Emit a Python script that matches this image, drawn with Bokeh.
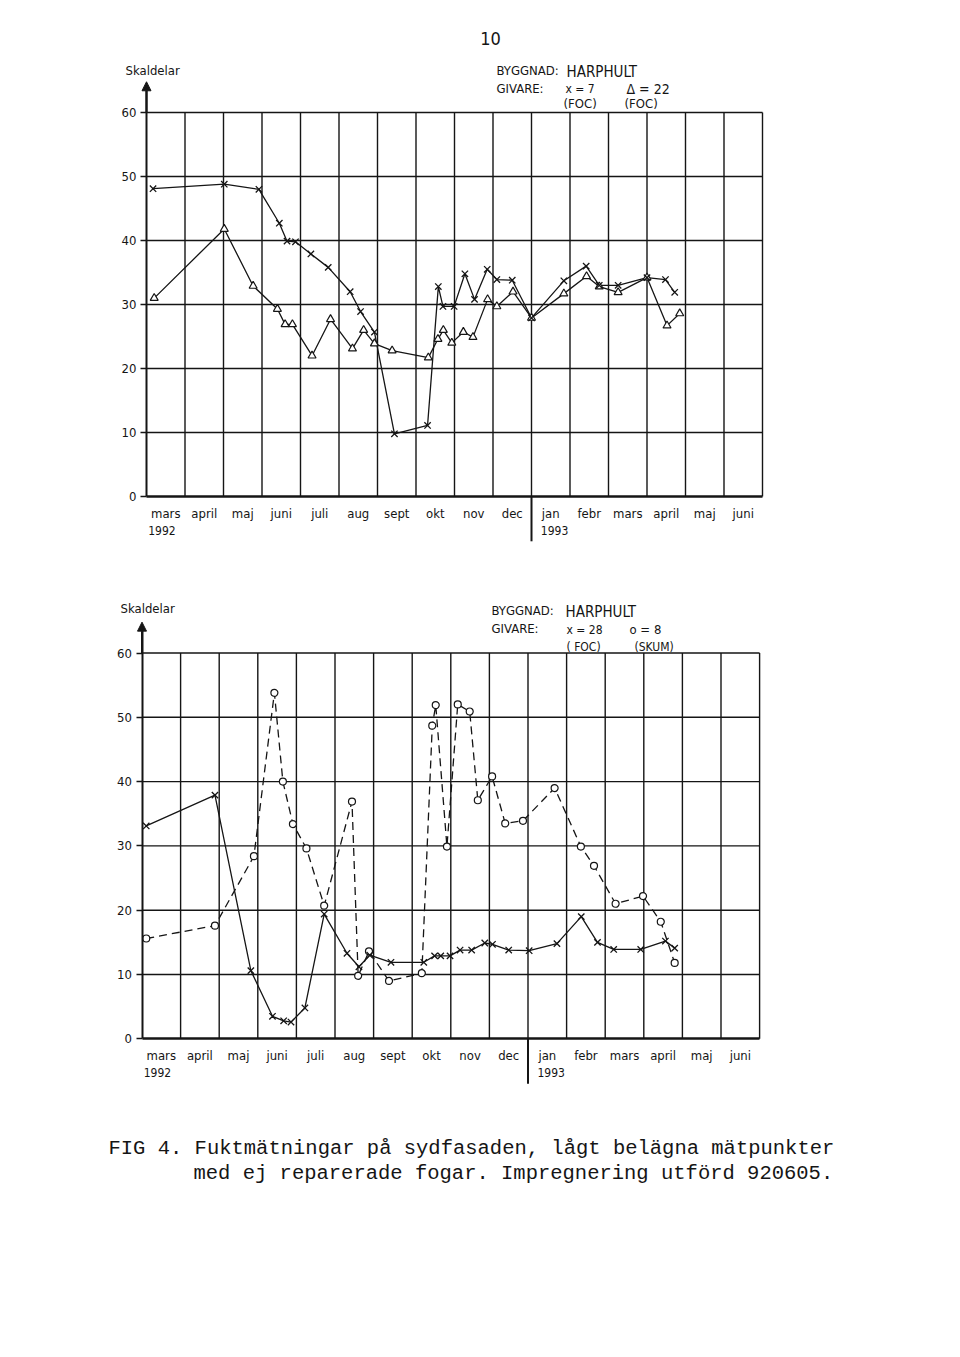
from bokeh.plotting import figure
from bokeh.models import Range1d, LinearAxis, FixedTicker, Label, Arrow, NormalHead
from bokeh.layouts import column
from bokeh.embed import file_html
from bokeh.resources import INLINE

# ---------------- data ----------------
months = ["mars", "april", "maj", "juni", "juli", "aug", "sept", "okt", "nov", "dec",
          "jan", "febr", "mars", "april", "maj", "juni"]
years = ["1992", "1993"]
year_start = [0, 10]          # month index where each year starts
y_ticks = [0, 10, 20, 30, 40, 50, 60]
grid_months = list(range(1, 17))
grid_levels = [10, 20, 30, 40, 50, 60]

# Chart 1: givare 7 (x, FOG) and givare 22 (triangle, FOG); x = months since 1 March 1992
g7_x = [0.17, 2.02, 2.92, 3.45, 3.65, 3.87, 4.27, 4.72, 5.29, 5.56, 5.92, 6.44, 7.30, 7.58,
        7.70, 7.99, 8.27, 8.52, 8.85, 9.10, 9.50, 10.0, 10.84, 11.42, 11.76, 12.25, 13.0,
        13.48, 13.72]
g7_y = [48.1, 48.8, 48.0, 42.7, 39.9, 39.8, 37.9, 35.8, 32.0, 28.9, 25.7, 9.8, 11.1, 32.8,
        29.7, 29.7, 34.8, 30.8, 35.5, 33.9, 33.8, 27.9, 33.7, 36.0, 33.0, 33.0, 34.2,
        33.9, 31.9]
g22_x = [0.2, 2.02, 2.77, 3.40, 3.60, 3.79, 4.30, 4.78, 5.35, 5.64, 5.92, 6.38, 7.32, 7.57,
         7.71, 7.93, 8.23, 8.48, 8.86, 9.10, 9.52, 10.0, 10.84, 11.43, 11.76, 12.25, 13.0,
         13.52, 13.85]
g22_y = [31.0, 41.8, 32.9, 29.3, 26.9, 26.9, 22.0, 27.7, 23.1, 26.0, 23.9, 22.8, 21.7, 24.6,
         26.0, 24.0, 25.7, 24.9, 30.8, 29.7, 32.0, 27.9, 31.7, 34.4, 32.8, 31.9, 34.2,
         26.7, 28.6]

# Chart 2: givare 28 (x, FOG) and givare 8 (circle, SKUM)
g28_x = [0.11, 1.89, 2.82, 3.38, 3.67, 3.86, 4.22, 4.72, 5.31, 5.62, 5.90, 6.45, 7.30, 7.58,
         7.74, 7.98, 8.24, 8.54, 8.88, 9.08, 9.50, 10.03, 10.75, 11.38, 11.80, 12.22, 12.92,
         13.56, 13.80]
g28_y = [33.1, 37.9, 10.6, 3.5, 2.8, 2.6, 4.8, 19.4, 13.3, 11.2, 13.0, 11.9, 11.9, 12.9,
         12.9, 12.9, 13.8, 13.8, 14.9, 14.7, 13.8, 13.7, 14.8, 19.0, 15.0, 13.9, 13.9,
         15.2, 14.1]
g8_x = [0.11, 1.89, 2.90, 3.43, 3.65, 3.91, 4.26, 4.72, 5.44, 5.60, 5.88, 6.40, 7.25, 7.52,
        7.61, 7.90, 8.18, 8.49, 8.70, 9.07, 9.41, 9.87, 10.69, 11.37, 11.71, 12.27, 12.98,
        13.44, 13.80]
g8_y = [15.6, 17.6, 28.4, 53.8, 40.0, 33.4, 29.6, 20.7, 36.9, 9.8, 13.6, 9.0, 10.2, 48.7,
        51.9, 29.9, 52.0, 50.9, 37.1, 40.8, 33.5, 33.9, 39.0, 29.9, 26.9, 21.0, 22.2,
        18.2, 11.8]

FONT = "Liberation Sans Narrow, DejaVu Sans Condensed, Liberation Sans, sans-serif"
HAND = "Liberation Sans Narrow, DejaVu Sans Condensed, sans-serif"
MONO = "Liberation Mono"
INK = "#151515"


def make_chart(H, x0, xs, y0, ys):
    """x0: page px of month 0, xs: px per month, y0: local px of value 0, ys: px per unit"""
    W = 960
    p = figure(width=W, height=H,
               x_range=Range1d(-x0 / xs, (W - x0) / xs),
               y_range=Range1d((y0 - H) / ys, y0 / ys),
               output_backend="svg", toolbar_location=None, min_border=0,
               x_axis_type=None, y_axis_type=None)
    p.outline_line_color = None
    p.background_fill_color = "white"
    p.border_fill_color = "white"

    # grid
    p.segment(x0=grid_months, y0=[0] * len(grid_months), x1=grid_months,
              y1=[60] * len(grid_months), line_color=INK, line_width=1.4)
    p.segment(x0=[0] * len(grid_levels), y0=grid_levels, x1=[16] * len(grid_levels),
              y1=grid_levels, line_color=INK, line_width=1.4)
    # year separator below the axis
    p.segment(x0=[year_start[1]], y0=[0], x1=[year_start[1]], y1=[-7.0],
              line_color=INK, line_width=2)

    yax = LinearAxis(fixed_location=0, bounds=(0, 63.5),
                     ticker=FixedTicker(ticks=y_ticks),
                     major_tick_out=6, major_tick_in=0, minor_tick_out=0, minor_tick_in=0,
                     axis_line_width=2, axis_line_color=INK,
                     major_tick_line_width=1.5, major_tick_line_color=INK,
                     major_label_text_font=FONT, major_label_text_font_size="13px",
                     major_label_text_color=INK, major_label_standoff=4)
    p.add_layout(yax, "left")

    xax = LinearAxis(fixed_location=0, bounds=(0, 16),
                     ticker=FixedTicker(ticks=[i + 0.5 for i in range(16)]),
                     major_label_overrides={i + 0.5: m for i, m in enumerate(months)},
                     major_tick_out=0, major_tick_in=0, minor_tick_out=0, minor_tick_in=0,
                     axis_line_width=2.5, axis_line_color=INK,
                     major_label_text_font=FONT, major_label_text_font_size="13px",
                     major_label_text_color=INK, major_label_standoff=9)
    p.add_layout(xax, "below")

    ypos = [year_start[0] + 0.4, year_start[1] + 0.6]
    yrax = LinearAxis(fixed_location=0,
                      ticker=FixedTicker(ticks=ypos),
                      major_label_overrides={ypos[i]: years[i] for i in range(2)},
                      major_tick_out=0, major_tick_in=0, minor_tick_out=0, minor_tick_in=0,
                      axis_line_color=None,
                      major_label_text_font=FONT, major_label_text_font_size="12px",
                      major_label_text_color=INK, major_label_standoff=29)
    p.add_layout(yrax, "below")

    p.add_layout(Arrow(end=NormalHead(size=9, fill_color=INK, line_color=INK),
                       x_start=0, y_start=60, x_end=0, y_end=64.8,
                       line_color=INK, line_width=2))
    return p


def label(p, H, x, y, s, size, font=FONT, align="left"):
    p.add_layout(Label(x=x, y=H - y, x_units="screen", y_units="screen", text=s,
                       text_font=font, text_font_size=f"{size}px", text_align=align,
                       text_baseline="middle", text_color=INK))


# ---------------- chart 1 ----------------
H1 = 580
p1 = make_chart(H1, 146, 38.5, 496, 6.4)
p1.line(g7_x, g7_y, line_color=INK, line_width=1.3)
p1.line(g22_x, g22_y, line_color=INK, line_width=1.3)
p1.scatter(g22_x, g22_y, marker="triangle", size=8, fill_color="white",
           line_color=INK, line_width=1.2)
p1.scatter(g7_x, g7_y, marker="x", size=9, line_color=INK, line_width=1.3)

label(p1, H1, 490, 38, "10", 18, align="center")
label(p1, H1, 125, 70, "Skaldelar", 13)
label(p1, H1, 496, 70, "BYGGNAD:", 13)
label(p1, H1, 566, 71, "HARPHULT", 15, HAND)
label(p1, H1, 496, 88, "GIVARE", 13)
label(p1, H1, 539, 88, ":", 13)
label(p1, H1, 565, 88, "x = 7", 12, HAND)
label(p1, H1, 626, 88, "\u0394 = 22", 14, HAND)
label(p1, H1, 563, 103, "(FOC)", 13, HAND)
label(p1, H1, 624, 103, "(FOC)", 13, HAND)

# ---------------- chart 2 ----------------
H2 = 777
p2 = make_chart(H2, 141.5, 38.6, 1038.3 - H1, 6.43)
p2.line(g8_x, g8_y, line_color=INK, line_width=1.3, line_dash="8 5")
p2.line(g28_x, g28_y, line_color=INK, line_width=1.3)
p2.scatter(g8_x, g8_y, marker="circle", size=7, fill_color="white",
           line_color=INK, line_width=1.2)
p2.scatter(g28_x, g28_y, marker="x", size=9, line_color=INK, line_width=1.3)

off = H1
label(p2, H2, 120, 608 - off, "Skaldelar", 13)
label(p2, H2, 491, 610 - off, "BYGGNAD:", 13)
label(p2, H2, 565, 611 - off, "HARPHULT", 15, HAND)
label(p2, H2, 491, 628 - off, "GIVARE", 13)
label(p2, H2, 534, 628 - off, ":", 13)
label(p2, H2, 566, 629 - off, "x = 28", 12, HAND)
label(p2, H2, 629, 629 - off, "o = 8", 13, HAND)
label(p2, H2, 566, 646 - off, "( FOC)", 12, HAND)
label(p2, H2, 634, 646 - off, "(SKUM)", 12, HAND)

label(p2, H2, 108, 1148 - off, "FIG 4. Fuktmätningar på sydfasaden, lågt belägna mätpunkter", 20.5, MONO)
label(p2, H2, 193, 1173 - off, "med ej reparerade fogar. Impregnering utförd 920605.", 20.5, MONO)

layout = column(p1, p2, spacing=0)
open("out.html", "w").write(file_html(layout, INLINE))
